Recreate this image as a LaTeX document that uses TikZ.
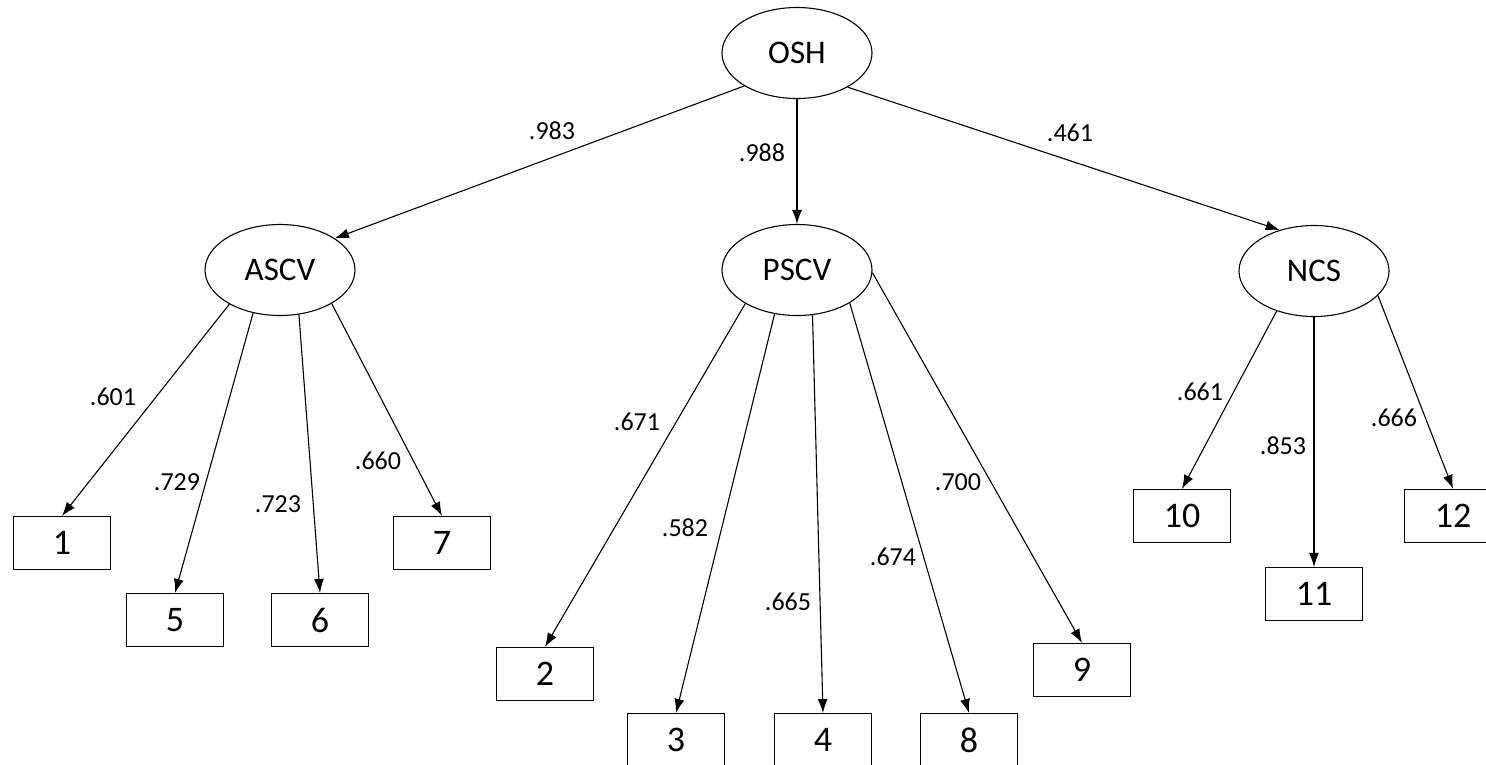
\documentclass[tikz,border=0pt]{standalone}
\usepackage{fontspec}
\setmainfont{Carlito}
\usepackage{tikz}
\usetikzlibrary{arrows.meta}
\usetikzlibrary{shapes.geometric}

\begin{document}
\begin{tikzpicture}[x=1pt,y=-1pt,
        latent/.style={draw,ellipse,line width=1.1pt,minimum width=150pt,minimum height=91pt,inner sep=0pt,font=\fontsize{33}{38}\selectfont},
        item/.style={draw,rectangle,line width=1.1pt,minimum width=97pt,minimum height=53pt,inner sep=0pt,font=\fontsize{36}{40}\selectfont},
        load/.style={inner sep=0pt,font=\fontsize{26}{30}\selectfont},
        arr/.style={-{Latex[length=14pt,width=10pt]},line width=1.1pt}]
        \useasboundingbox (0,0) rectangle (1486,764);

        \node[latent] (OSH) at (797,53) {OSH};
        \node[latent] (ASCV) at (280,270) {ASCV};
        \node[latent] (PSCV) at (797,270) {PSCV};
        \node[latent] (NCS) at (1314,271) {NCS};

        \node[item] (i1) at (62,543) {1};
        \node[item] (i5) at (175,620) {5};
        \node[item] (i6) at (320,620) {6};
        \node[item] (i7) at (442,543) {7};
        \node[item] (i2) at (545,674) {2};
        \node[item] (i3) at (676,740) {3};
        \node[item] (i4) at (823,740) {4};
        \node[item] (i8) at (969,740) {8};
        \node[item] (i9) at (1082,670) {9};
        \node[item] (i10) at (1182,516) {10};
        \node[item] (i11) at (1314,594) {11};
        \node[item] (i12) at (1453,516) {12};

        \draw[arr] (OSH.212) -- (ASCV.30);
        \draw[arr] (OSH.south) -- (PSCV.north);
        \draw[arr] (OSH.326) -- (NCS.130);

        \draw[arr] (ASCV.214) -- (i1.north);
        \draw[arr] (ASCV.238) -- (i5.north);
        \draw[arr] (ASCV.293) -- (i6.north);
        \draw[arr] (ASCV.327) -- (i7.north);

        \draw[arr] (PSCV.213) -- (i2.north);
        \draw[arr] (PSCV.243) -- (i3.north);
        \draw[arr] (PSCV.289) -- (i4.north);
        \draw[arr] (PSCV.328) -- (i8.north);
        \draw[arr] (PSCV.358) -- (i9.north);

        \draw[arr] (NCS.227) -- (i10.north);
        \draw[arr] (NCS.south) -- (i11.north);
        \draw[arr] (NCS.339) -- (i12.north);

        \node[load] (w1) at (552,131) {.983};
        \node[load] (w2) at (762,153) {.988};
        \node[load] (w3) at (1070,133) {.461};
        \node[load] (w4) at (113,397) {.601};
        \node[load] (w5) at (177,482) {.729};
        \node[load] (w6) at (278,504) {.723};
        \node[load] (w7) at (378,461) {.660};
        \node[load] (w8) at (637,422) {.671};
        \node[load] (w9) at (685,528) {.582};
        \node[load] (w10) at (788,602) {.665};
        \node[load] (w11) at (893,557) {.674};
        \node[load] (w12) at (958,482) {.700};
        \node[load] (w13) at (1200,392) {.661};
        \node[load] (w14) at (1283,446) {.853};
        \node[load] (w15) at (1394,418) {.666};
\end{tikzpicture}
\end{document}
